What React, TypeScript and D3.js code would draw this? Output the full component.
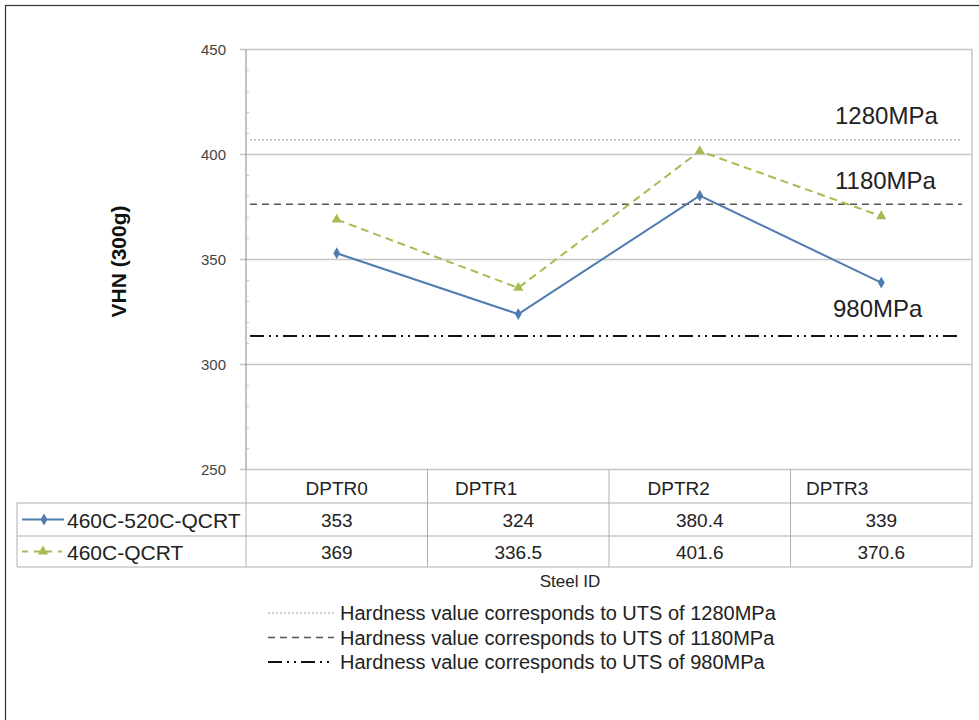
import React from "react";
import * as d3 from "d3";

// Steel grades and measured hardness
const categories = ["DPTR0", "DPTR1", "DPTR2", "DPTR3"];
const seriesNames = ["460C-520C-QCRT", "460C-QCRT"];
const seriesA = [353, 324, 380.4, 339];
const seriesB = [369, 336.5, 401.6, 370.6];
const seriesALabels = ["353", "324", "380.4", "339"];
const seriesBLabels = ["369", "336.5", "401.6", "370.6"];

// Hardness thresholds matching UTS levels
const refNames = ["1280MPa", "1180MPa", "980MPa"];
const refValues = [407, 376.3, 313.6];
const legendLabels = [
  "Hardness value corresponds to UTS of 1280MPa",
  "Hardness value corresponds to UTS of 1180MPa",
  "Hardness value corresponds to UTS of 980MPa",
];

const yTicks = [250, 300, 350, 400, 450];

const W = 979;
const H = 720;
const FONT = "'Liberation Sans', Arial, sans-serif";

const plot = { left: 246, right: 972, top: 49.5, bottom: 469.5 };
const tableRows = [469.5, 503, 536, 567];
const tableLeft = 17;

// per-column horizontal nudges for the header text
const headerShift = [0, -32, -21, -44];

const refStyles = [
  { stroke: "#9a9a9a", width: 1, dash: "2,2" },
  { stroke: "#555", width: 1.5, dash: "7,5" },
  { stroke: "#111", width: 2, dash: "14,5,2,5,2,5" },
];
const refLabelY = [116, 181, 309];

const blue = "#4f7cb0";
const green = "#a3bd52";

export default function App() {
  const y = d3.scaleLinear().domain([250, 450]).range([plot.bottom, plot.top]);
  const x = d3
    .scaleBand<string>()
    .domain(categories)
    .range([plot.left, plot.right])
    .paddingInner(0)
    .paddingOuter(0);
  const cx = (c: string) => (x(c) as number) + x.bandwidth() / 2;

  const line = d3
    .line<number>()
    .x((_, i) => cx(categories[i]))
    .y((v) => y(v));

  const diamond = d3.symbol().type(d3.symbolDiamond).size(40)() as string;
  const triangle = d3.symbol().type(d3.symbolTriangle).size(45)() as string;

  const minorTicks = d3.range(250, 451, 10).filter((v) => v % 50 !== 0);

  const rowMid = (i: number) => (tableRows[i] + tableRows[i + 1]) / 2;

  return (
    <svg
      width={W}
      height={H}
      style={{ position: "absolute", left: 0, top: 0, background: "#fff" }}
      fontFamily={FONT}
    >
      <rect x={0} y={0} width={W} height={H} fill="#fff" />
      {/* outer frame */}
      <rect x={5.5} y={5.5} width={W + 20} height={H + 20} fill="none" stroke="#333" strokeWidth={1.2} />

      {/* grid lines */}
      {yTicks.map((t) => (
        <line
          key={"g" + t}
          x1={plot.left - 6}
          x2={plot.right}
          y1={y(t)}
          y2={y(t)}
          stroke="#c4c4c4"
          strokeWidth={1.5}
        />
      ))}
      {/* plot right border */}
      <line x1={plot.right} x2={plot.right} y1={plot.top} y2={tableRows[3]} stroke="#c4c4c4" strokeWidth={1.5} />
      {/* y axis */}
      <line x1={plot.left} x2={plot.left} y1={plot.top} y2={plot.bottom} stroke="#9a9a9a" strokeWidth={1.2} />
      {minorTicks.map((t) => (
        <line key={"m" + t} x1={plot.left} x2={plot.left + 3} y1={y(t)} y2={y(t)} stroke="#c8c8c8" />
      ))}
      {yTicks.map((t) => (
        <text
          key={"t" + t}
          x={226}
          y={y(t)}
          dy="0.35em"
          textAnchor="end"
          fontSize={15}
          fill="#444"
        >
          {t}
        </text>
      ))}
      <text
        transform={`translate(126,${(plot.top + plot.bottom) / 2 + 2}) rotate(-90)`}
        textAnchor="middle"
        fontSize={21}
        fontWeight="bold"
        fill="#111"
      >
        VHN (300g)
      </text>

      {/* reference levels */}
      {refValues.map((v, i) => (
        <line
          key={"r" + i}
          x1={plot.left + 4}
          x2={plot.right - 10}
          y1={y(v)}
          y2={y(v)}
          stroke={refStyles[i].stroke}
          strokeWidth={refStyles[i].width}
          strokeDasharray={refStyles[i].dash}
        />
      ))}
      {refNames.map((n, i) => (
        <text key={"rn" + i} x={i === 2 ? 833 : 835} y={refLabelY[i]} dy="0.35em" fontSize={24} fill="#222">
          {n}
        </text>
      ))}

      {/* series */}
      <path d={line(seriesB) as string} fill="none" stroke={green} strokeWidth={2} strokeDasharray="8,5" />
      <path d={line(seriesA) as string} fill="none" stroke={blue} strokeWidth={2} />
      {seriesB.map((v, i) => (
        <path key={"pb" + i} d={triangle} transform={`translate(${cx(categories[i])},${y(v)})`} fill={green} />
      ))}
      {seriesA.map((v, i) => (
        <path key={"pa" + i} d={diamond} transform={`translate(${cx(categories[i])},${y(v)})`} fill={blue} />
      ))}

      {/* data table */}
      {categories.map((c, i) => (
        <line
          key={"tv" + i}
          x1={x(c) as number}
          x2={x(c) as number}
          y1={tableRows[0]}
          y2={tableRows[3]}
          stroke="#b0b0b0"
          strokeWidth={1}
        />
      ))}
      {tableRows.slice(1).map((r, i) => (
        <line key={"th" + i} x1={tableLeft} x2={plot.right} y1={r} y2={r} stroke="#b0b0b0" strokeWidth={1.2} />
      ))}
      <line x1={tableLeft} x2={tableLeft} y1={tableRows[1]} y2={tableRows[3]} stroke="#b0b0b0" />
      {categories.map((c, i) => (
        <text
          key={"hc" + i}
          x={cx(c) + headerShift[i]}
          y={rowMid(0) + 2}
          dy="0.35em"
          textAnchor="middle"
          fontSize={19}
          fill="#222"
        >
          {c}
        </text>
      ))}
      {[seriesALabels, seriesBLabels].map((labels, r) =>
        labels.map((l, i) => (
          <text
            key={"v" + r + i}
            x={cx(categories[i])}
            y={rowMid(r + 1) + 1}
            dy="0.35em"
            textAnchor="middle"
            fontSize={19}
            fill="#222"
          >
            {l}
          </text>
        ))
      )}
      {/* row keys */}
      <line x1={22} x2={64} y1={rowMid(1)} y2={rowMid(1)} stroke={blue} strokeWidth={2} />
      <path d={diamond} transform={`translate(44,${rowMid(1)})`} fill={blue} />
      <line x1={22} x2={62} y1={rowMid(2)} y2={rowMid(2)} stroke={green} strokeWidth={2} strokeDasharray="6,6" />
      <path d={triangle} transform={`translate(43,${rowMid(2)})`} fill={green} />
      {seriesNames.map((n, i) => (
        <text key={"sn" + i} x={67} y={rowMid(i + 1) + 1} dy="0.35em" fontSize={21} fill="#222">
          {n}
        </text>
      ))}

      <text x={570} y={581} dy="0.35em" textAnchor="middle" fontSize={17} fill="#222">
        Steel  ID
      </text>

      {/* legend for reference levels */}
      {legendLabels.map((l, i) => {
        const ly = 613 + i * 24.5;
        return (
          <g key={"lg" + i}>
            <line
              x1={268}
              x2={334}
              y1={ly}
              y2={ly}
              stroke={refStyles[i].stroke}
              strokeWidth={refStyles[i].width}
              strokeDasharray={refStyles[i].dash}
            />
            <text x={340} y={ly} dy="0.35em" fontSize={20} fill="#222">
              {l}
            </text>
          </g>
        );
      })}
    </svg>
  );
}
